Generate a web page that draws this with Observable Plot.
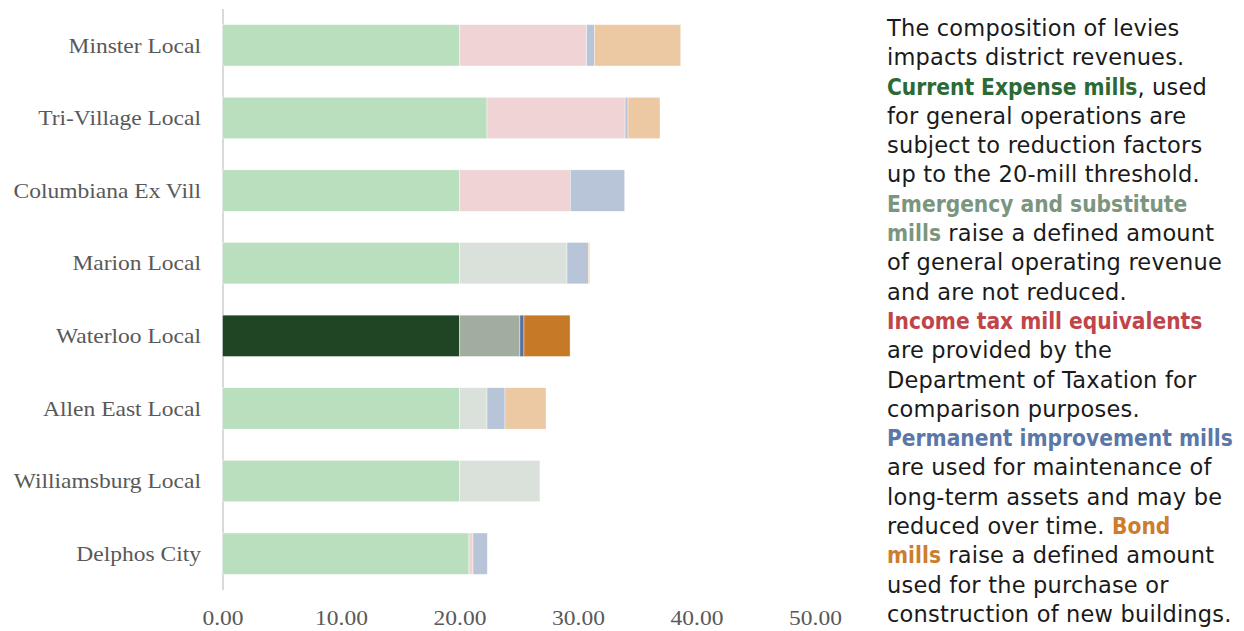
<!DOCTYPE html>
<html>
<head>
<meta charset="utf-8">
<script src="https://cdn.jsdelivr.net/npm/d3@7"></script>
<script src="https://cdn.jsdelivr.net/npm/@observablehq/plot@0.6"></script>
<style>
  body { margin: 0; background: #fff; width: 1244px; height: 631px; overflow: hidden; position: relative; }
  #chart { position: absolute; left: 0; top: 0; }
  #note {
    position: absolute; left: 887px; top: 14px;
    font-family: "DejaVu Sans", sans-serif; font-size: 22.5px; line-height: 29.3px;
    letter-spacing: 0.2px; color: #1a1a1a; white-space: nowrap;
  }
  #note b { font-family: "DejaVu Sans Condensed", "DejaVu Sans", sans-serif; font-weight: bold; letter-spacing: 0; }
</style>
</head>
<body>
<div id="chart"></div>
<div id="note">
  <div>The composition of levies</div>
  <div>impacts district revenues.</div>
  <div><b style="color:#2b6a36">Current Expense mills</b>, used</div>
  <div>for general operations are</div>
  <div>subject to reduction factors</div>
  <div>up to the 20-mill threshold.</div>
  <div><b style="color:#7b957e">Emergency and substitute</b></div>
  <div><b style="color:#7b957e">mills</b> raise a defined amount</div>
  <div>of general operating revenue</div>
  <div>and are not reduced.</div>
  <div><b style="color:#c0454b">Income tax mill equivalents</b></div>
  <div>are provided by the</div>
  <div>Department of Taxation for</div>
  <div>comparison purposes.</div>
  <div><b style="color:#5b77a7">Permanent improvement mills</b></div>
  <div>are used for maintenance of</div>
  <div>long-term assets and may be</div>
  <div>reduced over time. <b style="color:#cc7d2e">Bond</b></div>
  <div><b style="color:#cc7d2e">mills</b> raise a defined amount</div>
  <div>used for the purchase or</div>
  <div>construction of new buildings.</div>
</div>
<script>
// Districts, top to bottom
const districts = [
  "Minster Local", "Tri-Village Local", "Columbiana Ex Vill", "Marion Local",
  "Waterloo Local", "Allen East Local", "Williamsburg Local", "Delphos City"
];
const highlight = "Waterloo Local";

// Mills by levy type, one value per district
const currentExpense       = [20.00, 22.32, 20.00, 20.00, 20.00, 20.00, 20.00, 20.80];
const emergencySubstitute  = [ 0.00,  0.00,  0.00,  9.07,  5.10,  2.32,  6.79,  0.00];
const incomeTaxEquivalent  = [10.73, 11.65,  9.35,  0.00,  0.00,  0.00,  0.00,  0.34];
const permanentImprovement = [ 0.65,  0.25,  4.59,  1.80,  0.34,  1.52,  0.00,  1.21];
const bond                 = [ 7.29,  2.70,  0.00,  0.12,  3.89,  3.46,  0.00,  0.00];

const levyTypes = ["Current Expense", "Emergency and substitute", "Income tax equivalent", "Permanent improvement", "Bond"];
const levySeries = [currentExpense, emergencySubstitute, incomeTaxEquivalent, permanentImprovement, bond];

// Muted palette for comparison districts, full palette for the highlighted one
const paleColors   = ["#b9dfbf", "#dae1db", "#f0d3d5", "#b8c5d9", "#edc9a3"];
const strongColors = ["#1f4524", "#a1ae9f", "#c0454b", "#57709f", "#c67a28"];

const xTicks = [0, 10, 20, 30, 40, 50];

const rows = districts.flatMap((district, i) =>
  levyTypes.map((type, j) => ({
    district,
    type,
    mills: levySeries[j][i],
    fill: district === highlight ? strongColors[j] : paleColors[j]
  }))
);

const chart = Plot.plot({
  width: 850,
  height: 631,
  marginLeft: 222.5,
  marginRight: 35,
  marginTop: 9,
  marginBottom: 41,
  style: { fontFamily: "'Liberation Serif', serif", fontSize: "21px", color: "#595959", background: "transparent" },
  x: { domain: [0, 50] },
  y: { domain: districts, paddingInner: 0.43, paddingOuter: 0.215, round: false },
  color: { type: "identity" },
  marks: [
    Plot.ruleX([0], { stroke: "#d9d9d9", strokeWidth: 2 }),
    Plot.barX(rows, { x: "mills", y: "district", fill: "fill", stroke: "#fff", strokeWidth: 0.4 }),
    Plot.axisX({ ticks: xTicks, tickSize: 0, tickPadding: 20, tickFormat: d => d.toFixed(2), label: null }),
    Plot.axisY({ tickSize: 0, tickPadding: 22, label: null })
  ]
});

document.getElementById("chart").append(chart);

// Widen the axis labels horizontally
d3.select(chart).selectAll('g[aria-label="x-axis tick label"] text, g[aria-label="y-axis tick label"] text')
  .attr("transform", function () { return (this.getAttribute("transform") || "") + " scale(1.12,1)"; });
</script>
</body>
</html>
